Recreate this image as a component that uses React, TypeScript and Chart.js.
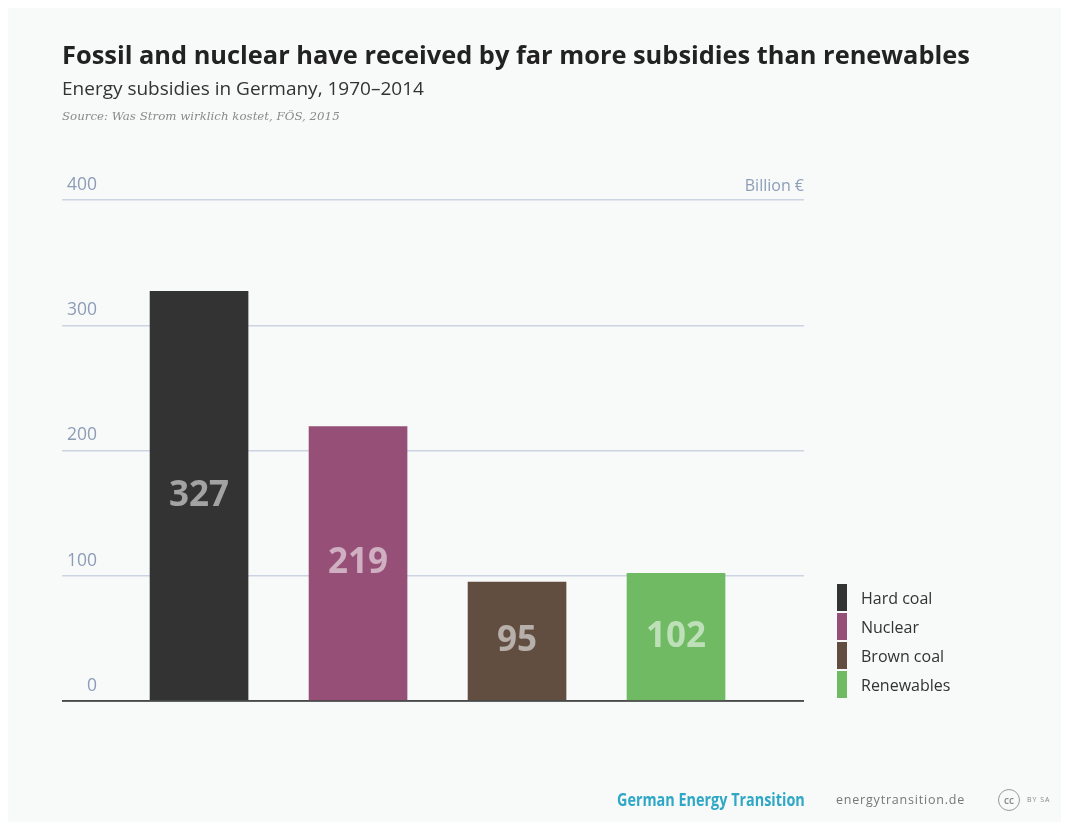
import React, { useEffect, useRef } from "react";
import { Chart, registerables } from "chart.js";
Chart.register(...registerables);

const categories = ["Hard coal", "Nuclear", "Brown coal", "Renewables"];
const subsidies = [327, 219, 95, 102];
const barColors = ["#333333", "#964f77", "#614e40", "#6fba62"];
const yTicks = [0, 100, 200, 300, 400];
const unitLabel = "Billion €";
const title = "Fossil and nuclear have received by far more subsidies than renewables";
const subtitle = "Energy subsidies in Germany, 1970–2014";
const source = "Source: Was Strom wirklich kostet, FÖS, 2015";

const CARD_W = 1053;
const CARD_H = 814;
const FONT = "'Open Sans', 'Noto Sans', sans-serif";

export default function App() {
  const ref = useRef<HTMLCanvasElement>(null);

  useEffect(() => {
    if (!ref.current) return;

    const valueLabels = {
      id: "valueLabels",
      afterDatasetsDraw(chart: any) {
        const ctx = chart.ctx;
        const meta = chart.getDatasetMeta(0);
        const ys = chart.scales.y;
        ctx.save();
        const y0 = ys.getPixelForValue(0);
        ctx.strokeStyle = "#4a4a4a";
        ctx.lineWidth = 1.5;
        ctx.beginPath();
        ctx.moveTo(chart.chartArea.left, y0);
        ctx.lineTo(chart.chartArea.right, y0);
        ctx.stroke();
        ctx.font = `700 35px ${FONT}`;
        ctx.fillStyle = "rgba(255,255,255,0.55)";
        ctx.textAlign = "center";
        ctx.textBaseline = "middle";
        meta.data.forEach((el: any, i: number) => {
          const p = el.getProps(["x", "y", "base"], true);
          ctx.fillText(String(subsidies[i]), p.x, (p.y + p.base) / 2);
        });
        ctx.restore();
      },
    };

    const tickLabels = {
      id: "tickLabels",
      afterDraw(chart: any) {
        const ctx = chart.ctx;
        const ys = chart.scales.y;
        ctx.save();
        ctx.font = `400 17.5px ${FONT}`;
        ctx.fillStyle = "#8d9db6";
        ctx.textAlign = "right";
        ctx.textBaseline = "middle";
        ys.ticks.forEach((t: any) => {
          const y = ys.getPixelForValue(t.value);
          ctx.fillText(String(t.value), chart.chartArea.left + 35, y - 15);
        });
        ctx.restore();
      },
    };

    const chart = new Chart(ref.current, {
      type: "bar",
      data: {
        labels: categories,
        datasets: [
          {
            data: subsidies.map((v, i) => ({ x: i, y: v })),
            backgroundColor: barColors,
            borderWidth: 0,
            barThickness: 98,
          },
        ],
      },
      options: {
        responsive: false,
        animation: false,
        layout: { padding: { left: 54, right: 257, top: 192, bottom: 121 } },
        plugins: { legend: { display: false }, tooltip: { enabled: false } },
        scales: {
          x: {
            type: "linear",
            min: -0.862,
            max: 3.805,
            offset: false,
            display: false,
          },
          y: {
            min: 0,
            max: 400,
            afterBuildTicks: (s: any) => {
              s.ticks = yTicks.map((v) => ({ value: v }));
            },
            ticks: { display: false },
            border: { display: false },
            grid: {
              drawTicks: false,
              color: (c: any) => (c.tick && c.tick.value === 0 ? "#4a4a4a" : "#ccd4e4"),
              lineWidth: 1.5,
            },
          },
        },
      },
      plugins: [valueLabels, tickLabels],
    } as any);

    return () => chart.destroy();
  }, []);

  return (
    <div
      style={{
        position: "relative",
        width: CARD_W,
        height: CARD_H,
        background: "#f8f9f9",
        fontFamily: FONT,
        overflow: "hidden",
      }}
    >
      <canvas
        ref={ref}
        width={CARD_W}
        height={CARD_H}
        style={{ position: "absolute", left: 0, top: 0 }}
      />
      <div
        style={{
          position: "absolute",
          left: 54,
          top: 31,
          fontSize: 25.4,
          lineHeight: "30px",
          fontWeight: 700,
          color: "#222",
          whiteSpace: "nowrap",
        }}
      >
        {title}
      </div>
      <div
        style={{
          position: "absolute",
          left: 54,
          top: 68,
          fontSize: 19,
          lineHeight: "24px",
          fontWeight: 400,
          color: "#333",
          whiteSpace: "nowrap",
        }}
      >
        {subtitle}
      </div>
      <div
        style={{
          position: "absolute",
          left: 54,
          top: 101,
          fontSize: 11.8,
          lineHeight: "14px",
          fontStyle: "italic",
          fontFamily: "'DejaVu Serif', 'Liberation Serif', serif",
          color: "#8a8a8a",
          whiteSpace: "nowrap",
        }}
      >
        {source}
      </div>
      <div
        style={{
          position: "absolute",
          right: 257,
          top: 165,
          fontSize: 16,
          lineHeight: "24px",
          color: "#8d9db6",
          whiteSpace: "nowrap",
        }}
      >
        {unitLabel}
      </div>
      <div style={{ position: "absolute", left: 829, top: 576 }}>
        {categories.map((c, i) => (
          <div
            key={c}
            style={{ display: "flex", alignItems: "center", height: 27, marginBottom: 2 }}
          >
            <div style={{ width: 10, height: 27, background: barColors[i] }} />
            <div
              style={{
                marginLeft: 14,
                fontSize: 16,
                color: "#333",
                whiteSpace: "nowrap",
              }}
            >
              {c}
            </div>
          </div>
        ))}
      </div>
      <div
        style={{
          position: "absolute",
          left: 609,
          top: 779,
          fontSize: 18,
          lineHeight: "24px",
          fontWeight: 700,
          color: "#2fa8c6",
          whiteSpace: "nowrap",
          transform: "scaleX(0.8)",
          transformOrigin: "left center",
        }}
      >
        German Energy Transition
      </div>
      <div
        style={{
          position: "absolute",
          left: 828,
          top: 782,
          fontSize: 12.5,
          lineHeight: "20px",
          letterSpacing: 0.8,
          color: "#777",
          whiteSpace: "nowrap",
        }}
      >
        energytransition.de
      </div>
      <div
        style={{
          position: "absolute",
          left: 990,
          top: 781,
          width: 20,
          height: 20,
          borderRadius: "50%",
          border: "1.5px solid #9a9a9a",
          color: "#888",
          fontSize: 10,
          lineHeight: "20px",
          textAlign: "center",
          fontWeight: 600,
        }}
      >
        cc
      </div>
      <div
        style={{
          position: "absolute",
          left: 1019,
          top: 786,
          fontSize: 7,
          lineHeight: "12px",
          letterSpacing: 1,
          color: "#888",
          whiteSpace: "nowrap",
        }}
      >
        BY SA
      </div>
    </div>
  );
}
